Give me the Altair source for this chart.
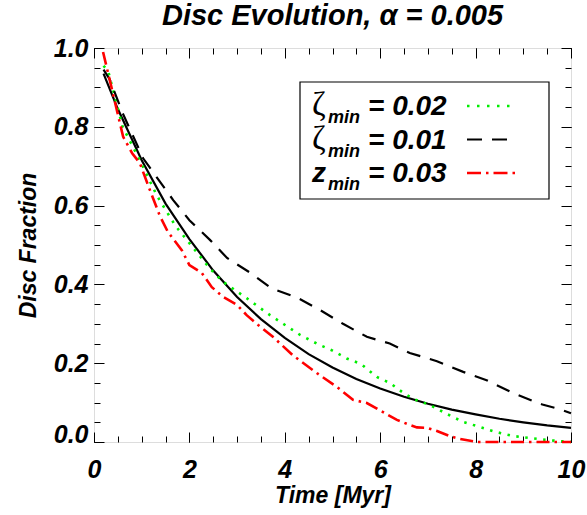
import altair as alt
import pandas as pd

# ---------------- data ----------------
model_t = [0.2, 0.5, 1.0, 1.5, 2.0, 2.5, 3.0, 3.5, 4.0, 4.5, 5.0, 5.5, 6.0,
           6.5, 7.0, 7.5, 8.0, 8.5, 9.0, 9.5, 10.0]
model_v = [0.935, 0.845, 0.715, 0.605, 0.515, 0.435, 0.368, 0.312, 0.264,
           0.223, 0.189, 0.160, 0.136, 0.115, 0.097, 0.082, 0.070, 0.059,
           0.050, 0.042, 0.036]

zeta02_t = [0.2, 0.3, 0.6, 0.96, 1.32, 1.7, 1.95, 2.43, 2.7, 3.2, 3.69, 4.32,
            4.7, 5.0, 5.3, 5.6, 5.93, 6.2, 6.48, 6.7, 7.04, 7.4, 7.74, 8.09,
            8.44, 8.8, 9.14, 9.5, 9.8, 10.0]
zeta02_v = [0.955, 0.94, 0.80, 0.715, 0.625, 0.55, 0.512, 0.44, 0.407, 0.365,
            0.322, 0.272, 0.248, 0.232, 0.212, 0.198, 0.165, 0.15, 0.125,
            0.109, 0.094, 0.071, 0.051, 0.038, 0.025, 0.015, 0.01, 0.005,
            0.002, 0.0]

zeta01_t = [0.2, 0.33, 0.6, 1.03, 1.66, 2.0, 2.43, 2.79, 3.27, 3.72, 4.25,
            4.74, 5.22, 5.72, 6.2, 6.62, 7.19, 7.74, 8.23, 8.79, 9.29, 9.4,
            9.77, 10.0]
zeta01_v = [0.945, 0.92, 0.835, 0.72, 0.614, 0.563, 0.513, 0.467, 0.430,
            0.39, 0.367, 0.335, 0.30, 0.267, 0.25, 0.226, 0.205, 0.178, 0.157,
            0.124, 0.10, 0.095, 0.083, 0.073]

zmin03_t = [0.19, 0.38, 0.61, 0.8, 0.96, 1.17, 1.38, 1.55, 1.84, 2.0, 2.26,
            2.47, 2.7, 3.0, 3.2, 3.44, 3.75, 4.17, 4.67, 5.09, 5.43, 5.72,
            6.06, 6.35, 6.56, 6.77, 6.98, 7.19, 7.46, 7.67, 8.03, 8.5, 9.0,
            9.5, 10.0]
zmin03_v = [0.99, 0.893, 0.775, 0.733, 0.708, 0.64, 0.574, 0.533, 0.487,
            0.449, 0.429, 0.393, 0.369, 0.348, 0.322, 0.297, 0.267, 0.22,
            0.175, 0.14, 0.107, 0.099, 0.076, 0.056, 0.046, 0.037, 0.036,
            0.028, 0.015, 0.008, 0.0, 0.0, 0.0, 0.0, 0.0]

x_major = [0, 2, 4, 6, 8, 10]
x_minor = [i * 0.5 for i in range(21)]
y_major = [0.0, 0.2, 0.4, 0.6, 0.8, 1.0]
y_minor = [i * 0.05 for i in range(21)]

title_text = "Disc Evolution, α = 0.005"
x_title = "Time [Myr]"
y_title = "Disc Fraction"
legend_symbols = ["ζ", "ζ", "z"]
legend_sub = "min"
legend_values = ["= 0.02", "= 0.01", "= 0.03"]

# ---------------- styling ----------------
SANS = "Liberation Sans"
SERIF = "Liberation Serif"
W, H = 477, 394

xs = alt.Scale(domain=[0, 10], nice=False, zero=False)
ys = alt.Scale(domain=[0, 1], nice=False, zero=False)

lab_common = dict(labelFont=SANS, labelFontSize=25, labelFontWeight="bold",
                  labelFontStyle="italic", labelColor="black",
                  titleFont=SANS, titleFontSize=23, titleFontWeight="bold",
                  titleFontStyle="italic", titleColor="black",
                  ticks=False, tickSize=0, domain=False, grid=False,
                  labelFlush=False)

x_lab_axis = alt.Axis(orient="bottom", values=x_major, format="d",
                      labelPadding=15, title=x_title, titlePadding=2,
                      **lab_common)
y_lab_axis = alt.Axis(orient="left", values=y_major, format=".1f",
                      labelPadding=6, title=y_title, titlePadding=13,
                      labelBaseline={"condition": {"test": "datum.value == 0",
                                                   "value": "alphabetic"},
                                     "value": "middle"},
                      **lab_common)


def tick_axis(orient, vals, size):
    return alt.Axis(orient=orient, values=vals, labels=False, domain=False,
                    grid=False, ticks=True, tickSize=size, tickColor="black",
                    tickWidth=1, offset=-size, title=None)


def series(t, v, **mark):
    df = pd.DataFrame({"t": t, "v": v})
    return alt.Chart(df).mark_line(**mark).encode(
        x=alt.X("t:Q", scale=xs, axis=None),
        y=alt.Y("v:Q", scale=ys, axis=None),
    )


dummy = pd.DataFrame({"t": [0.0], "v": [0.0]})

main = alt.Chart(pd.DataFrame({"t": model_t, "v": model_v})).mark_line(
    color="black", strokeWidth=2.2).encode(
    x=alt.X("t:Q", scale=xs, axis=x_lab_axis),
    y=alt.Y("v:Q", scale=ys, axis=y_lab_axis),
)

green = series(zeta02_t, zeta02_v, color="#00ee00", strokeWidth=2.6,
               strokeDash=[2.5, 6.5])
dashed = series(zeta01_t, zeta01_v, color="black", strokeWidth=2.2,
                strokeDash=[14, 10])
red = series(zmin03_t, zmin03_v, color="#ff0000", strokeWidth=2.6,
             strokeDash=[13, 5, 2.5, 5])

tick_layers = []
for (xo, yo, xv, yv, sz) in [("bottom", "left", x_major, y_major, 10),
                             ("bottom", "left", x_minor, y_minor, 6),
                             ("top", "right", x_major, y_major, 10),
                             ("top", "right", x_minor, y_minor, 6)]:
    tick_layers.append(
        alt.Chart(dummy).mark_point(opacity=0).encode(
            x=alt.X("t:Q", scale=xs, axis=tick_axis(xo, xv, sz)),
            y=alt.Y("v:Q", scale=ys, axis=tick_axis(yo, yv, sz)),
        )
    )

# ---------------- legend (inside the plot) ----------------
one = pd.DataFrame({"k": [0]})
legend_layers = [
    alt.Chart(one).mark_rect(filled=False, stroke="black", strokeWidth=1.2)
    .encode(x=alt.value(206), x2=alt.value(455), y=alt.value(34),
            y2=alt.value(151))
]
sample_styles = [
    dict(color="#00ee00", strokeWidth=2.6, strokeDash=[2.5, 7.5]),
    dict(color="black", strokeWidth=2.2, strokeDash=[15, 10]),
    dict(color="#ff0000", strokeWidth=2.6, strokeDash=[14, 5, 2.5, 5]),
]
for i in range(3):
    base_y = 67 + i * 33.5
    is_greek = legend_symbols[i] == "ζ"
    legend_layers.append(
        alt.Chart(one).mark_text(text=legend_symbols[i],
                                 font=SERIF if is_greek else SANS,
                                 fontSize=33 if is_greek else 28,
                                 fontStyle="normal" if is_greek else "italic",
                                 fontWeight="normal" if is_greek else "bold",
                                 align="left", baseline="alphabetic",
                                 color="black")
        .encode(x=alt.value(218), y=alt.value(base_y)))
    legend_layers.append(
        alt.Chart(one).mark_text(text=legend_sub, font=SANS, fontSize=18,
                                 fontStyle="italic", fontWeight="bold",
                                 align="left", baseline="alphabetic",
                                 color="black")
        .encode(x=alt.value(234), y=alt.value(base_y + 8)))
    legend_layers.append(
        alt.Chart(one).mark_text(text=legend_values[i], font=SANS,
                                 fontSize=28, fontStyle="italic",
                                 fontWeight="bold", align="left",
                                 baseline="alphabetic", color="black")
        .encode(x=alt.value(274), y=alt.value(base_y)))
    legend_layers.append(
        alt.Chart(one).mark_rule(**sample_styles[i])
        .encode(x=alt.value(373), x2=alt.value(423),
                y=alt.value(base_y - 9)))

chart = alt.layer(main, green, dashed, red, *tick_layers, *legend_layers).resolve_axis(
    x="independent", y="independent"
).properties(
    width=W, height=H,
    autosize=alt.AutoSizeParams(type="none"),
    padding={"left": 94, "top": 48, "right": 16, "bottom": 73},
    title=alt.Title(title_text, font=SANS, fontSize=29, fontWeight="bold",
                    fontStyle="italic", color="black", offset=5,
                    anchor="middle"),
).configure_view(stroke="black", strokeWidth=1.2).configure(
    background="white")

chart.save("out.html", embed_options={"renderer": "svg", "actions": False})
